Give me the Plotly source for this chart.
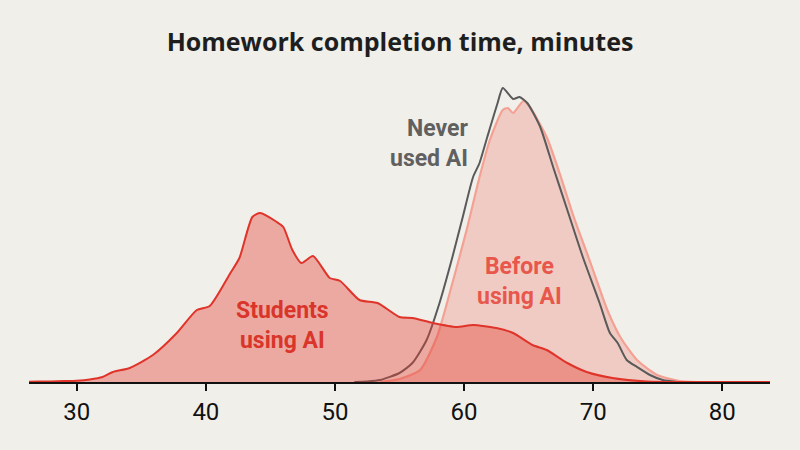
import plotly.graph_objects as go

# density curves (arbitrary units)
students_x = [26.3, 27, 28, 29, 30, 31, 32, 32.8, 34.1, 35.9, 37.75, 39.3, 40.3, 41.9, 42.6,
              43.6, 44.2, 45.5, 46.0, 46.7, 47.4, 48.3, 49.6, 50.4, 51.9, 53.3, 55.0, 56.0,
              57.6, 59.4, 60.7, 62.5, 63.8, 65.3, 66.4, 68.0, 69.5, 71.5, 74.2, 77, 83.7]
students_y = [0.3, 0.4, 0.6, 0.9, 1.3, 2.5, 5, 10, 14, 27, 49, 72, 76, 109, 124,
              165, 169, 160, 155, 132, 119, 126, 104, 101, 82, 79, 65, 64,
              59, 55, 57, 54, 49, 37, 32, 19, 10, 4, 0.5, 0, 0]

never_x = [51.5, 52.5, 53.5, 55.0, 56.0, 57.1, 58.1, 59.1, 59.9, 60.7, 61.2, 61.8, 62.6, 63.0,
           63.8, 64.3, 64.9, 65.9, 66.9, 68.0, 69.2, 70.5, 71.3, 71.9, 72.6, 73.4, 74.4,
           75.4, 76.5]
never_y = [0, 0.5, 2, 9, 19, 42, 79, 125, 165, 205, 219, 245, 279, 294,
           283, 285, 279, 255, 215, 172, 125, 79, 49, 39, 22, 15, 7,
           2, 0]

before_x = [53.5, 55.0, 56.6, 57.9, 59.1, 60.2, 61.2, 62.0, 63.0, 63.4, 63.8, 64.6, 65.1,
            66.4, 67.4, 68.5, 69.8, 71.1, 72.1, 73.4, 74.96, 76.7, 78]
before_y = [0, 3, 12, 45, 99, 152, 205, 242, 272, 274, 269, 281, 275,
            245, 209, 165, 119, 72, 45, 22, 7, 1, 0]

tick_vals = [30, 40, 50, 60, 70, 80]

bg = "#f0efea"
fig = go.Figure()

fig.add_trace(go.Scatter(
    x=before_x, y=before_y, mode="lines", fill="tozeroy",
    fillcolor="#f0cbc3", line=dict(color="#f4a194", width=2.2, shape="spline", smoothing=0.6),
    hoverinfo="skip"
))
fig.add_trace(go.Scatter(
    x=never_x, y=never_y, mode="lines",
    line=dict(color="#5a5a5a", width=2, shape="spline", smoothing=0.6),
    hoverinfo="skip"
))
fig.add_trace(go.Scatter(
    x=students_x, y=students_y, mode="lines", fill="tozeroy",
    fillcolor="rgba(226,58,47,0.39)", line=dict(color="#e0332a", width=2, shape="spline", smoothing=0.6),
    hoverinfo="skip"
))

label_font = "Roboto"
fig.add_annotation(x=45.9, y=57, text="<b>Students<br>using AI</b>", showarrow=False,
                   font=dict(family=label_font, size=23, color="#d9352a"))
fig.add_annotation(x=64.3, y=101, text="<b>Before<br>using AI</b>", showarrow=False,
                   font=dict(family=label_font, size=23, color="#e8574c"))
fig.add_annotation(x=60.5, y=239, text="<b>Never<br>used AI</b>", showarrow=False, xanchor="right",
                   align="right", font=dict(family=label_font, size=23, color="#606060"))

fig.update_xaxes(
    range=[26.3, 83.7], tickvals=tick_vals, ticks="outside", ticklen=7, tickwidth=2,
    tickcolor="#111", showline=True, linecolor="#111", linewidth=2, showgrid=False,
    zeroline=False, tickfont=dict(family="Roboto", size=24, color="#111"),
    fixedrange=True
)
fig.update_yaxes(range=[0, 302], visible=False, showgrid=False, zeroline=False, fixedrange=True)

fig.update_layout(
    width=800, height=450,
    margin=dict(l=29, r=30, t=80, b=68),
    paper_bgcolor=bg, plot_bgcolor=bg,
    showlegend=False,
    title=dict(text="<b>Homework completion time, minutes</b>", x=0.5, xanchor="center",
               y=0.907, yanchor="middle",
               font=dict(family="Open Sans", size=25, weight=800, color="#1e1e1e"))
)

fig.write_html("out.html", config={"displayModeBar": False},
               post_script="document.body.style.margin='0';document.body.style.background='%s';" % bg)
